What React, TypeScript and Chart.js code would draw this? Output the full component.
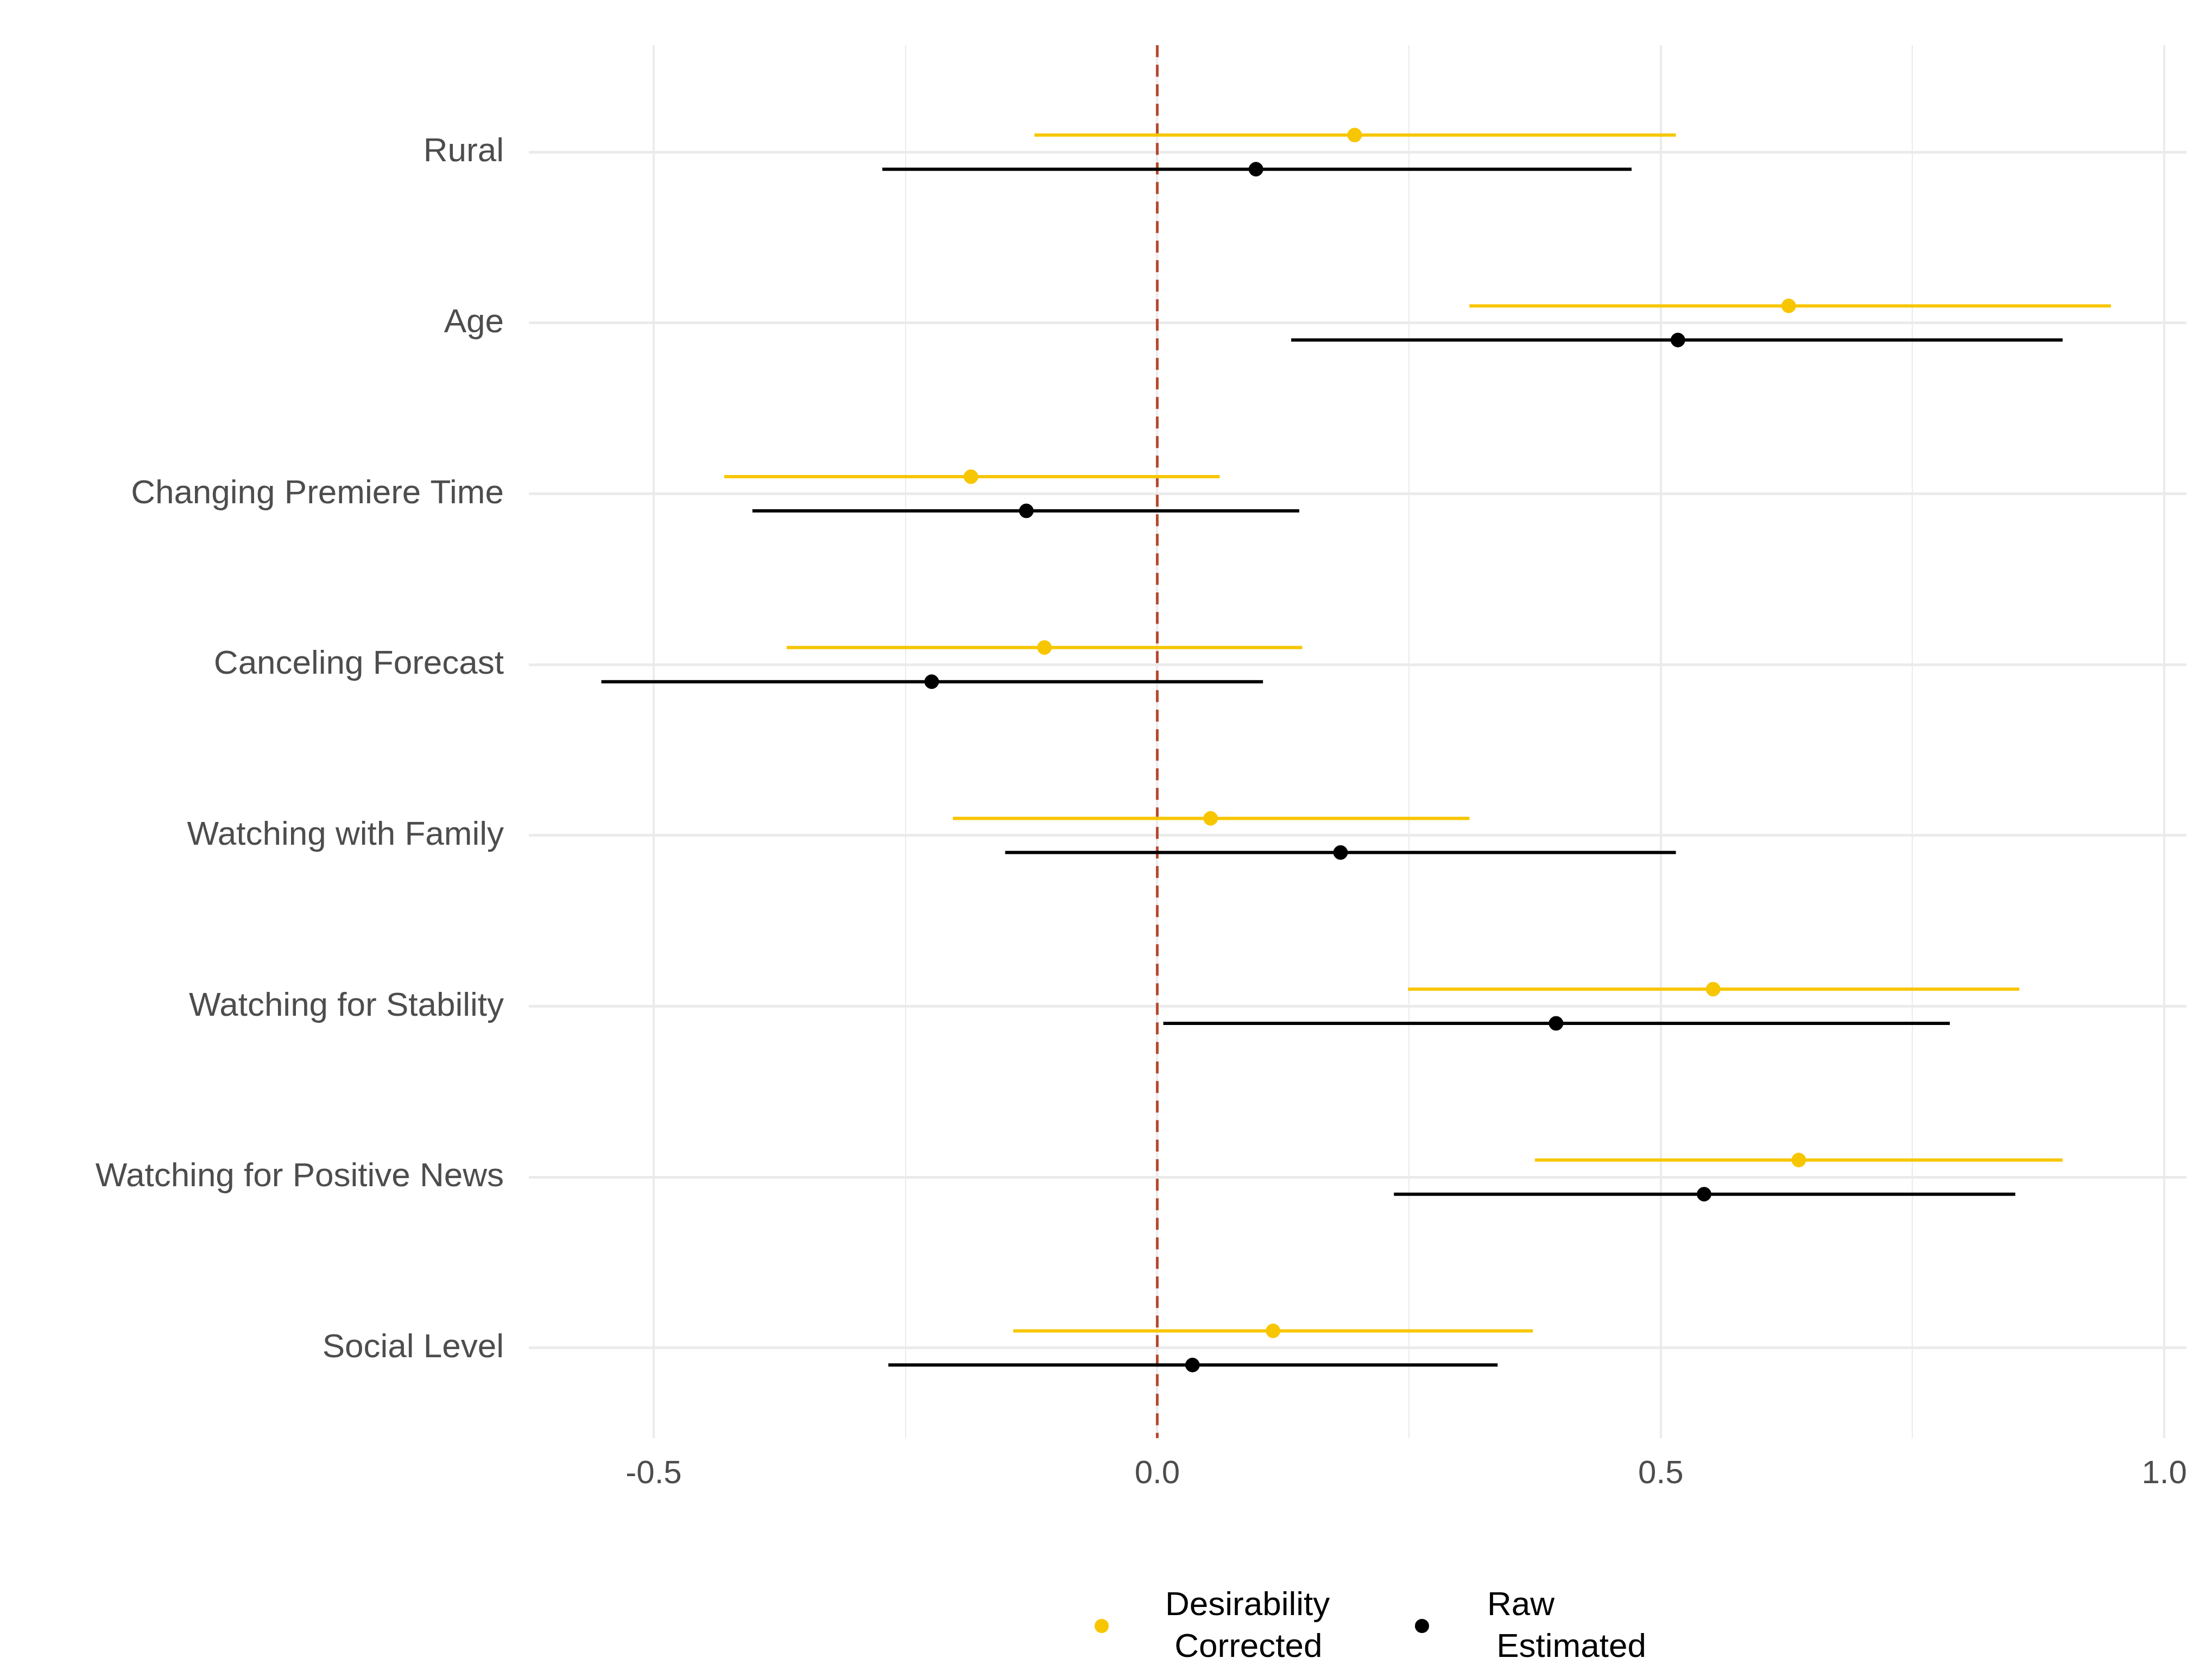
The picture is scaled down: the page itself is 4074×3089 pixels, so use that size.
import React, { useEffect, useRef } from "react";
import { Chart, registerables } from "chart.js";
Chart.register(...registerables);

const categories = ["Rural", "Age", "Changing Premiere Time", "Canceling Forecast", "Watching with Family", "Watching for Stability", "Watching for Positive News", "Social Level"];
const corrEst = [0.196, 0.627, -0.185, -0.112, 0.053, 0.552, 0.637, 0.115];
const corrLo = [-0.122, 0.31, -0.43, -0.368, -0.203, 0.249, 0.375, -0.143];
const corrHi = [0.515, 0.947, 0.062, 0.144, 0.31, 0.856, 0.899, 0.373];
const rawEst = [0.098, 0.517, -0.13, -0.224, 0.182, 0.396, 0.543, 0.035];
const rawLo = [-0.273, 0.133, -0.402, -0.552, -0.151, 0.006, 0.235, -0.267];
const rawHi = [0.471, 0.899, 0.141, 0.105, 0.515, 0.787, 0.852, 0.338];
const xTicks = [-0.5, 0, 0.5, 1.0];

const YELLOW = "#F7C600";
const BLACK = "#000000";
const OFF = 0.1;
const n = categories.length;
const yPos = (i: number) => n - i;

export default function App() {
  const ref = useRef<HTMLCanvasElement>(null);
  useEffect(() => {
    document.body.style.margin = "0";
    const errPlugin = {
      id: "err",
      beforeDatasetsDraw(chart: any) {
        const { ctx, scales: { x, y }, chartArea } = chart;
        ctx.save();
        ctx.strokeStyle = "#B5482D";
        ctx.lineWidth = 5;
        ctx.setLineDash([22, 14]);
        ctx.beginPath();
        ctx.moveTo(x.getPixelForValue(0), chartArea.top);
        ctx.lineTo(x.getPixelForValue(0), chartArea.bottom);
        ctx.stroke();
        ctx.setLineDash([]);
        ctx.lineWidth = 6;
        const draw = (lo: number[], hi: number[], off: number, col: string) => {
          ctx.strokeStyle = col;
          for (let i = 0; i < n; i++) {
            const py = y.getPixelForValue(yPos(i) + off);
            ctx.beginPath();
            ctx.moveTo(x.getPixelForValue(lo[i]), py);
            ctx.lineTo(x.getPixelForValue(hi[i]), py);
            ctx.stroke();
          }
        };
        draw(corrLo, corrHi, OFF, YELLOW);
        draw(rawLo, rawHi, -OFF, BLACK);
        ctx.restore();
      },
      afterDraw(chart: any) {
        const ctx = chart.ctx;
        ctx.save();
        ctx.font = "62px Arial, 'Liberation Sans'";
        ctx.textBaseline = "middle";
        ctx.fillStyle = YELLOW;
        ctx.beginPath(); ctx.arc(2029, 2995, 13, 0, Math.PI * 2); ctx.fill();
        ctx.fillStyle = BLACK;
        ctx.beginPath(); ctx.arc(2619, 2995, 13, 0, Math.PI * 2); ctx.fill();
        ctx.textAlign = "left";
        ctx.fillText("Desirability", 2146, 2958);
        ctx.fillText(" Corrected", 2146, 3035);
        ctx.fillText("Raw", 2739, 2958);
        ctx.fillText(" Estimated", 2739, 3035);
        ctx.restore();
      },
    };
    const chart = new Chart(ref.current!, {
      type: "scatter",
      data: {
        datasets: [
          { label: "Desirability Corrected", data: corrEst.map((v, i) => ({ x: v, y: yPos(i) + OFF })), backgroundColor: YELLOW, borderColor: YELLOW, pointRadius: 13 },
          { label: "Raw Estimated", data: rawEst.map((v, i) => ({ x: v, y: yPos(i) - OFF })), backgroundColor: BLACK, borderColor: BLACK, pointRadius: 13 },
        ],
      },
      options: {
        animation: false,
        responsive: false,
        devicePixelRatio: 1,
        layout: { padding: { top: 39, right: 47, bottom: 290, left: 0 } },
        plugins: { legend: { display: false }, tooltip: { enabled: false } },
        scales: {
          x: {
            type: "linear", min: -0.624, max: 1.022,
            afterBuildTicks: (s: any) => { s.ticks = [-0.5, -0.25, 0, 0.25, 0.5, 0.75, 1.0].map(v => ({ value: v })); },
            afterFit: (s: any) => { s.height = 150; },
            border: { display: false },
            grid: {
              color: "#EBEBEB",
              lineWidth: (c: any) => (xTicks.includes(c.tick?.value) ? 4 : 2),
              drawTicks: false,
            },
            ticks: {
              padding: 30,
              color: "#4D4D4D",
              font: { size: 60, family: "Arial, 'Liberation Sans'" },
              callback: (v: any) => (xTicks.includes(Number(v)) ? Number(v).toFixed(1) : ""),
            },
          },
          y: {
            type: "linear", min: 0.472, max: 8.626,
            afterBuildTicks: (s: any) => { s.ticks = categories.map((_, i) => ({ value: yPos(i) })); },
            afterFit: (s: any) => { s.width = 974; },
            border: { display: false },
            grid: { color: "#EBEBEB", lineWidth: 5, drawTicks: false },
            ticks: {
              padding: 46,
              color: "#4D4D4D",
              font: { size: 62, family: "Arial, 'Liberation Sans'" },
              callback: (v: any) => categories[n - Number(v)] ?? "",
            },
          },
        },
      },
      plugins: [errPlugin],
    });
    return () => chart.destroy();
  }, []);
  return <canvas ref={ref} width={4074} height={3089} style={{ display: "block" }} />;
}
